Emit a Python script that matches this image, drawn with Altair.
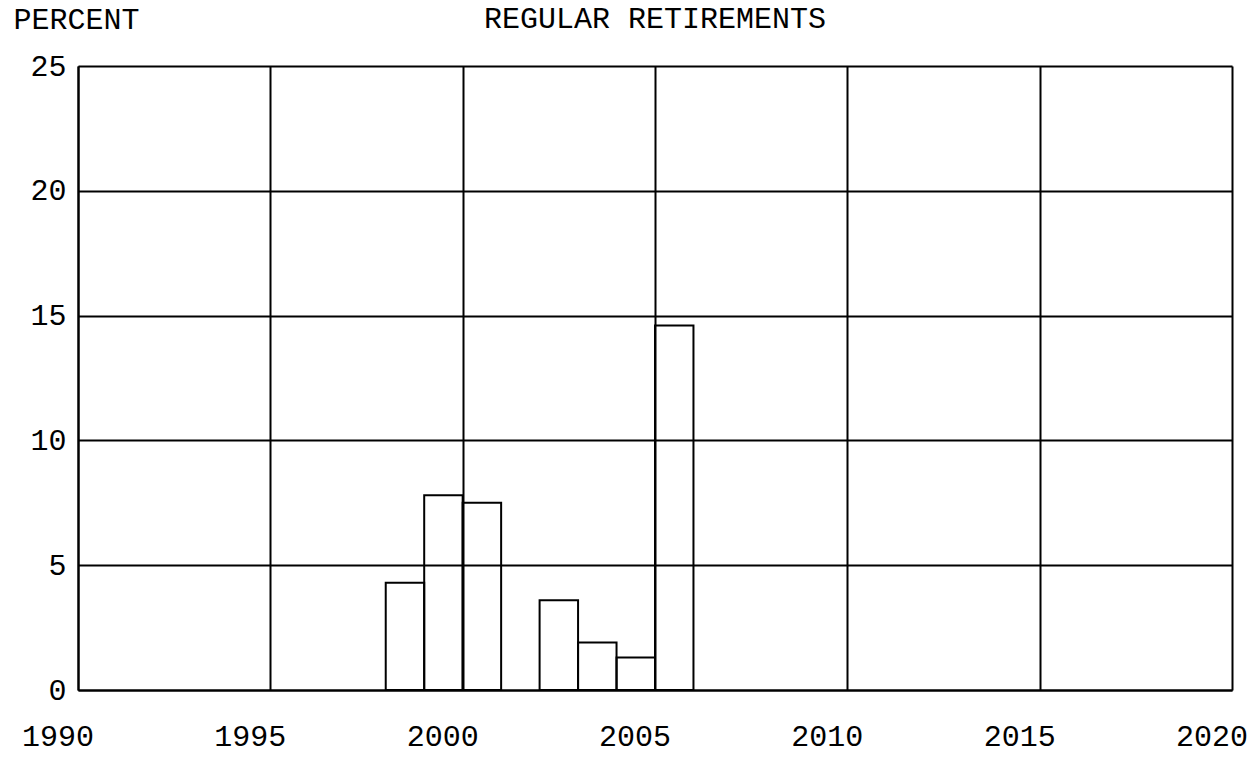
import altair as alt
import pandas as pd

# bar end years and their percentages
years = [1999, 2000, 2001, 2003, 2004, 2005, 2006]
percent = [4.3, 7.8, 7.5, 3.6, 1.9, 1.3, 14.6]
x_ticks = [1990, 1995, 2000, 2005, 2010, 2015, 2020]
y_ticks = [0, 5, 10, 15, 20, 25]
chart_title = "REGULAR RETIREMENTS"
y_title = "PERCENT"

df = pd.DataFrame({"year": years, "percent": percent})
ticks_df = pd.DataFrame({"tick": x_ticks, "label": [str(t) for t in x_ticks]})
title_df = pd.DataFrame({"text": [chart_title]})

FONT = "Liberation Mono"
W, H = 1154, 624
x_scale = alt.Scale(domain=[1990, 2020], nice=False, zero=False)

bars = (
    alt.Chart(df)
    .transform_calculate(start="datum.year - 1")
    .mark_bar(fill="white", fillOpacity=0, stroke="black", strokeWidth=2)
    .encode(
        x=alt.X(
            "start:Q",
            scale=x_scale,
            axis=alt.Axis(
                values=x_ticks,
                title=None,
                ticks=False,
                labels=False,
                grid=True,
                gridColor="black",
                gridWidth=2,
                gridOpacity=1,
                domainColor="black",
                domainWidth=2,
            ),
        ),
        x2="year:Q",
        y=alt.Y(
            "percent:Q",
            scale=alt.Scale(domain=[0, 25], nice=False),
            axis=alt.Axis(
                values=y_ticks,
                title=y_title,
                titleAngle=0,
                titleX=-65,
                titleY=-38,
                titleAlign="left",
                titleBaseline="alphabetic",
                titleFont=FONT,
                titleFontSize=30,
                titleFontWeight="normal",
                titleColor="black",
                ticks=False,
                grid=True,
                gridColor="black",
                gridWidth=2,
                gridOpacity=1,
                domainColor="black",
                domainWidth=2,
                labelFont=FONT,
                labelFontSize=30,
                labelColor="black",
                labelPadding=12,
                labelFlush=False,
                labelOverlap=False,
            ),
        ),
        y2=alt.datum(0),
    )
)

x_labels = (
    alt.Chart(ticks_df)
    .mark_text(
        font=FONT,
        fontSize=30,
        color="black",
        baseline="alphabetic",
        align="center",
        dx=-20,
    )
    .encode(
        x=alt.X("tick:Q", scale=x_scale),
        y=alt.value(680),
        text="label:N",
    )
)

title_mark = (
    alt.Chart(title_df)
    .mark_text(
        font=FONT,
        fontSize=30,
        color="black",
        baseline="alphabetic",
        align="center",
    )
    .encode(
        x=alt.value(W / 2),
        y=alt.value(-38),
        text="text:N",
    )
)

chart = (
    alt.layer(bars, x_labels, title_mark)
    .properties(
        width=W,
        height=H,
        autosize=alt.AutoSizeParams(type="none"),
        padding={"left": 70, "top": 58, "right": 15, "bottom": 59},
    )
    .configure_view(stroke="black", strokeWidth=2)
    .configure(background="white")
)

chart.save("out.html", embed_options={"renderer": "svg", "actions": False})
